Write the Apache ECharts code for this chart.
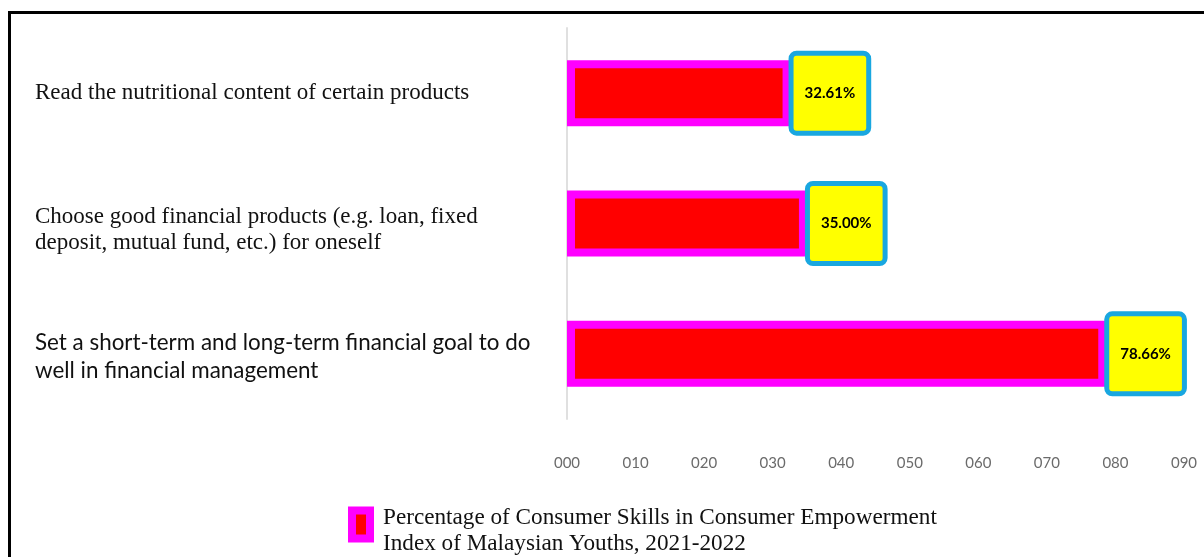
<!DOCTYPE html>
<html>
<head>
<meta charset="utf-8">
<script src="https://cdn.jsdelivr.net/npm/echarts@6/dist/echarts.min.js"></script>
<style>
  html, body { margin: 0; padding: 0; background: #ffffff; }
  #chart { width: 1204px; height: 557px; }
</style>
</head>
<body>
<div id="chart"></div>
<script>
// Consumer skills, share of Malaysian youths (%)
const categories = [
  'Read the nutritional content of certain products',
  'Choose good financial products (e.g. loan, fixed\ndeposit, mutual fund, etc.) for oneself',
  'Set a short-term and long-term financial goal to do\nwell in financial management'
];
const values = [32.61, 35.00, 78.66];
const seriesName = 'Percentage of Consumer Skills in Consumer Empowerment\nIndex of Malaysian Youths, 2021-2022';
const axisMin = 0;
const axisMax = 90;
const axisStep = 10;

const chart = echarts.init(document.getElementById('chart'), null, { renderer: 'canvas' });

// the first two row captions are set in a serif face, the last one in a sans face
const captionStyle = ['serif', 'serif2', 'sans'];

const option = {
  backgroundColor: '#ffffff',
  animation: false,
  grid: { left: 567, right: 20, top: 28, bottom: 138, containLabel: false },
  xAxis: {
    type: 'value',
    min: axisMin,
    max: axisMax,
    interval: axisStep,
    axisLine: { show: false },
    axisTick: { show: false },
    splitLine: { show: false },
    axisLabel: {
      margin: 37,
      color: '#6b6b6b',
      fontFamily: 'Lato',
      fontSize: 15,
      formatter: v => String(v).padStart(3, '0')
    }
  },
  yAxis: {
    type: 'category',
    inverse: true,
    data: categories,
    axisLine: { show: true, lineStyle: { color: '#e0e0e0', width: 2 } },
    axisTick: { show: false },
    splitLine: { show: false },
    axisLabel: {
      align: 'left',
      margin: 532,
      formatter: (v, i) => '{' + captionStyle[i] + '|' + v + '}',
      rich: {
        serif: { fontFamily: 'Liberation Serif', fontSize: 23, lineHeight: 26, color: '#111111' },
        serif2: { fontFamily: 'Liberation Serif', fontSize: 23, lineHeight: 26, color: '#111111', padding: [12, 0, 0, 0] },
        sans: { fontFamily: 'Lato', fontSize: 22.4, lineHeight: 28, color: '#111111', padding: [6, 0, 0, 0] }
      }
    }
  },
  legend: {
    left: 343,
    top: 493,
    icon: 'rect',
    itemWidth: 18,
    itemHeight: 28,
    itemStyle: { color: '#FF0000', borderColor: '#FF00FF', borderWidth: 8 },
    // a thin spacer line sits the two caption lines a little lower than the swatch
    formatter: name => '{gap| }\n{t|' + name.split('\n').join('}\n{t|') + '}',
    textStyle: {
      fontFamily: 'Liberation Serif',
      fontSize: 23,
      color: '#111111',
      padding: [0, 0, 0, 8],
      rich: {
        gap: { fontSize: 1, lineHeight: 12 },
        t: { fontFamily: 'Liberation Serif', fontSize: 23.2, lineHeight: 26, color: '#111111' }
      }
    },
    data: [seriesName]
  },
  series: [{
    name: seriesName,
    type: 'bar',
    data: values,
    barWidth: 66,
    itemStyle: { color: '#FF0000', borderColor: '#FF00FF', borderWidth: 8 },
    label: {
      show: true,
      position: 'right',
      distance: 3,
      formatter: p => p.value.toFixed(2) + '%',
      fontFamily: 'Lato',
      fontWeight: 'bold',
      fontSize: 15,
      color: '#000000',
      backgroundColor: '#FFFF00',
      borderColor: '#19A7E0',
      borderWidth: 5,
      borderRadius: 3,
      padding: [0, 11],
      lineHeight: 75
    }
  }],
  graphic: [
    {
      type: 'polyline',
      silent: true,
      shape: { points: [[9.5, 557], [9.5, 12.5], [1204, 12.5]] },
      style: { stroke: '#000000', lineWidth: 3, fill: null }
    }
  ]
};

chart.setOption(option);
</script>
</body>
</html>
